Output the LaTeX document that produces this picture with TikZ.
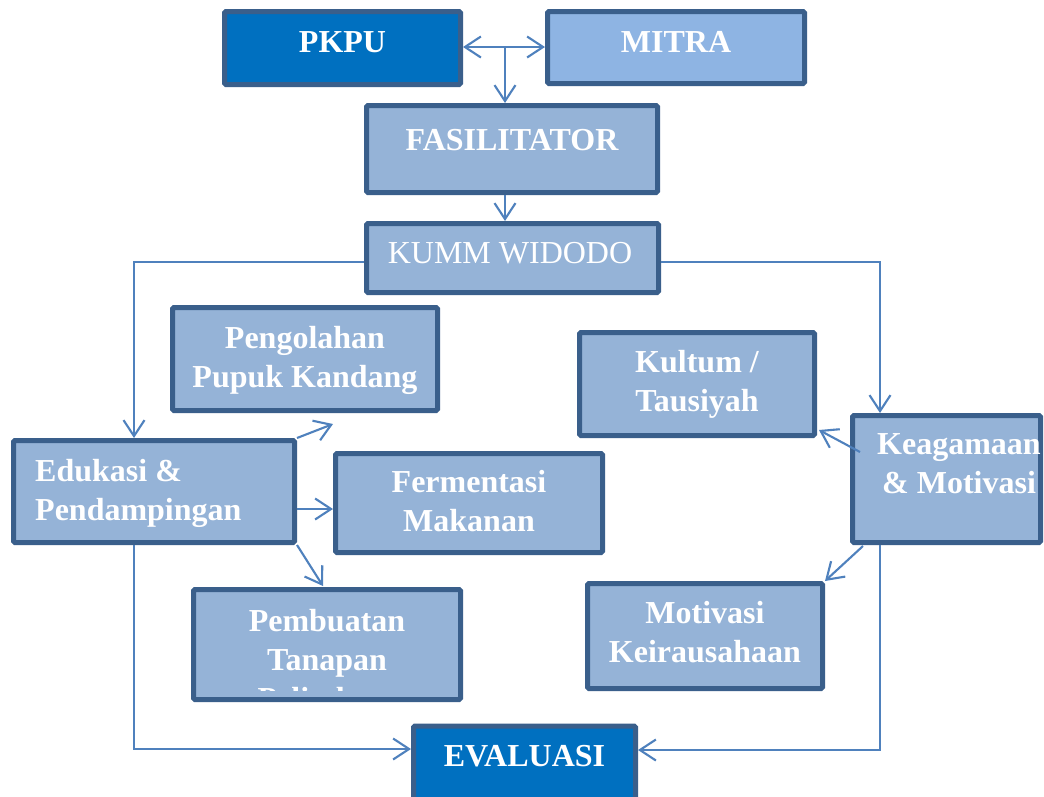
\documentclass[tikz,border=0pt]{standalone}
\usepackage{fontspec}
\setmainfont{Liberation Serif}
\usetikzlibrary{arrows.meta}
\definecolor{bord}{HTML}{3A5F8B}
\definecolor{fillA}{HTML}{95B3D7}
\definecolor{fillM}{HTML}{8EB4E3}
\definecolor{fillD}{HTML}{0070C0}
\definecolor{conn}{HTML}{4F81BD}
\tikzset{
 box/.style={draw=bord, line width=5pt, fill=fillA, rounded corners=1.5pt, inner sep=0pt},
 lbl/.style={text=white, font=\bfseries\fontsize{32}{39}\selectfont, inner sep=0pt, anchor=base, align=center},
 barb/.tip={Straight Barb[length=16pt,width=21pt]},
 conx/.style={draw=conn, line width=2.1pt, -barb},
}
\begin{document}
\begin{tikzpicture}[x=1pt,y=-1pt]
\clip (0,0) rectangle (1044,796);
\fill[white] (0,0) rectangle (1044,796);
% boxes
\node[box, fill=fillD, minimum width=236pt, minimum height=73pt] (pkpu) at (342.5,48) {};
\node[box, fill=fillM, minimum width=257pt, minimum height=72pt] (mitra) at (676,47.5) {};
\node[box, minimum width=291pt, minimum height=87pt] (fas) at (512,149) {};
\node[box, minimum width=292pt, minimum height=69pt] (kumm) at (512.5,258) {};
\node[box, minimum width=265pt, minimum height=103pt] (peng) at (305,359) {};
\node[box, minimum width=235pt, minimum height=103pt] (kult) at (697,384) {};
\node[box, minimum width=281pt, minimum height=102pt] (edu) at (154,491.5) {};
\node[box, minimum width=267pt, minimum height=99pt] (ferm) at (469,503) {};
\node[box, minimum width=188pt, minimum height=127pt] (keag) at (946.5,479) {};
\node[box, minimum width=267pt, minimum height=110pt] (pemb) at (327,644.5) {};
\node[box, minimum width=235pt, minimum height=105pt] (moti) at (705,636) {};
\node[box, fill=fillD, minimum width=222pt, minimum height=74pt] (eval) at (524.5,763) {};
% texts
\node[lbl] (tpkpu) at (342.5,52) {PKPU};
\node[lbl] (tmitra) at (676,52) {MITRA};
\node[lbl] (tfas) at (512,150) {FASILITATOR};
\node[lbl, font=\fontsize{32}{39}\selectfont] (tkumm) at (510,263) {KUMM WIDODO};
\node[lbl] (tpeng) at (305,387) {Pengolahan\\Pupuk Kandang};
\node[lbl] (tkult) at (697,411) {Kultum /\\Tausiyah};
\node[lbl, align=left, anchor=base west] (tedu) at (35,520) {Edukasi \&\\Pendampingan};
\node[lbl] (tferm) at (469,531) {Fermentasi\\Makanan};
\node[lbl] (tkeag) at (959,493) {Keagamaan\\\& Motivasi};
\node[lbl] (tmoti) at (705,662) {Motivasi\\Keirausahaan};
\begin{scope}
\clip (196,592) rectangle (458,690);
\node[lbl] (tpemb) at (327,709) {Pembuatan\\Tanapan\\Pelindung};
\end{scope}
\node[lbl] (teval) at (524.5,766) {EVALUASI};
% connectors
\coordinate (j1) at (505,47);
\coordinate (cl) at (134,262);
\coordinate (cr) at (880,262);
\coordinate (pa) at (333,424);
\coordinate (fy) at (0,509);
\coordinate (pb) at (323,586);
\coordinate (ks) at (860,452);
\coordinate (kt) at (819,430);
\coordinate (km) at (863,546);
\coordinate (el) at (134,749);
\coordinate (er) at (880,750);
\draw[conx, barb-barb] (pkpu.east |- j1) -- (mitra.west |- j1);
\draw[conx] (j1) -- (j1 |- fas.north);
\draw[conx] (fas.south -| j1) -- (kumm.north -| j1);
\draw[conx] (kumm.west |- cl) -- (cl) -- (cl |- edu.north);
\draw[conx] (kumm.east |- cr) -- (cr) -- (cr |- keag.north);
\draw[conx] (edu.north east) -- (pa);
\draw[conx] (edu.east |- fy) -- (ferm.west |- fy);
\draw[conx] (edu.south east) -- (pb);
\draw[conx] (ks) -- (kt);
\draw[conx] (km) -- (moti.north east);
\draw[conx] (edu.south -| el) -- (el) -- (eval.west |- el);
\draw[conx] (keag.south -| er) -- (er) -- (eval.east |- er);
\end{tikzpicture}
\end{document}
